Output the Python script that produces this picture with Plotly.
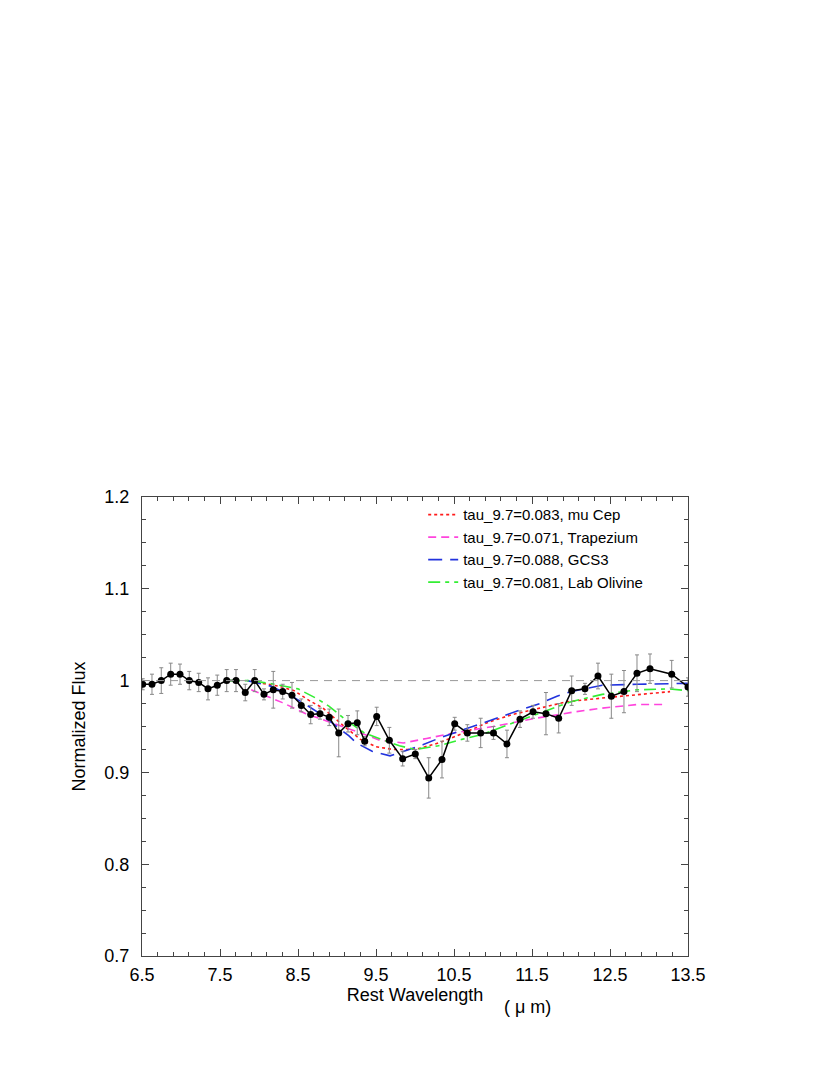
"""Silicate 9.7 um absorption fit — normalized flux vs rest wavelength."""

import plotly.graph_objects as go

# observed spectrum (rest wavelength in micron, normalized flux, 1-sigma error)
wave = [6.509, 6.628, 6.747, 6.868, 6.987, 7.106, 7.227, 7.346, 7.465, 7.586,
        7.705, 7.824, 7.945, 8.064, 8.183, 8.304, 8.423, 8.542, 8.663, 8.782,
        8.901, 9.022, 9.141, 9.260, 9.355, 9.509, 9.671, 9.842, 10.004, 10.176,
        10.346, 10.509, 10.671, 10.842, 11.006, 11.179, 11.346, 11.513, 11.679, 11.842,
        12.009, 12.179, 12.346, 12.517, 12.679, 12.846, 13.013, 13.291, 13.500]
flux = [0.996, 0.996, 1.000, 1.007, 1.007, 1.000, 0.998, 0.991, 0.995, 1.000,
        1.000, 0.987, 1.000, 0.985, 0.990, 0.988, 0.984, 0.973, 0.963, 0.964,
        0.960, 0.943, 0.953, 0.954, 0.934, 0.961, 0.935, 0.915, 0.920, 0.894,
        0.914, 0.953, 0.943, 0.943, 0.943, 0.931, 0.958, 0.966, 0.964, 0.959,
        0.989, 0.991, 1.005, 0.983, 0.988, 1.008, 1.013, 1.007, 0.993]
flux_err = [0.006, 0.011, 0.014, 0.012, 0.011, 0.010, 0.010, 0.012, 0.011, 0.012,
            0.012, 0.009, 0.012, 0.006, 0.020, 0.008, 0.014, 0.007, 0.010, 0.006,
            0.009, 0.026, 0.009, 0.013, 0.005, 0.010, 0.014, 0.008, 0.005, 0.022,
            0.020, 0.007, 0.009, 0.016, 0.007, 0.015, 0.009, 0.007, 0.023, 0.016,
            0.016, 0.006, 0.014, 0.024, 0.023, 0.020, 0.016, 0.015, 0.010]

# model absorption profiles
mucep_x = [7.90, 8.05, 8.25, 8.45, 8.65, 8.82, 9.08, 9.30, 9.50, 9.72, 9.90,
           10.05, 10.30, 10.60, 10.95, 11.25, 11.60, 11.95, 12.40, 12.85, 13.27]
mucep_y = [1.000, 0.997, 0.994, 0.989, 0.978, 0.970, 0.951, 0.936, 0.928, 0.925, 0.925,
           0.926, 0.932, 0.942, 0.955, 0.963, 0.970, 0.977, 0.981, 0.985, 0.988]

trap_x = [7.90, 8.05, 8.30, 8.60, 8.90, 9.05, 9.30, 9.55, 9.85, 10.15,
          10.50, 11.00, 11.30, 11.55, 11.85, 12.05, 12.40, 12.85, 13.20]
trap_y = [0.990, 0.985, 0.976, 0.964, 0.955, 0.951, 0.943, 0.935, 0.932, 0.937,
          0.943, 0.950, 0.955, 0.959, 0.963, 0.966, 0.970, 0.974, 0.974]

gcs3_x = [7.85, 8.15, 8.40, 8.60, 8.80, 9.00, 9.15, 9.25, 9.45, 9.68, 9.90, 10.10,
          10.30, 10.60, 10.85, 11.15, 11.35, 11.60, 11.82, 12.00, 12.40, 12.85, 13.30, 13.50]
gcs3_y = [1.000, 0.994, 0.984, 0.974, 0.963, 0.950, 0.940, 0.932, 0.923, 0.918, 0.924, 0.930,
          0.937, 0.946, 0.953, 0.962, 0.968, 0.975, 0.983, 0.988, 0.995, 0.996, 0.997, 0.997]

oliv_x = [7.60, 7.90, 8.20, 8.50, 8.75, 8.90, 9.10, 9.35, 9.60, 9.80, 10.00,
          10.30, 10.60, 10.85, 11.10, 11.35, 11.65, 12.00, 12.40, 12.85, 13.25, 13.50]
oliv_y = [1.000, 1.000, 0.996, 0.991, 0.980, 0.972, 0.958, 0.943, 0.935, 0.929, 0.925,
          0.929, 0.936, 0.941, 0.949, 0.957, 0.966, 0.977, 0.985, 0.990, 0.991, 0.989]

FONT = "Liberation Sans, Arial, sans-serif"
TITLE_FONT = {"family": FONT, "size": 18, "color": "black"}

fig = go.Figure()

fig.add_trace(go.Scatter(
    x=mucep_x, y=mucep_y, mode="lines", name="tau_9.7=0.083, mu Cep",
    line={"color": "#ff1a1a", "dash": "dot", "width": 1.6},
))
fig.add_trace(go.Scatter(
    x=trap_x, y=trap_y, mode="lines", name="tau_9.7=0.071, Trapezium",
    line={"color": "#ff44dd", "dash": "8px,5px", "width": 1.6},
))
fig.add_trace(go.Scatter(
    x=gcs3_x, y=gcs3_y, mode="lines", name="tau_9.7=0.088, GCS3",
    line={"color": "#2233dd", "dash": "14px,8px", "width": 1.6},
))
fig.add_trace(go.Scatter(
    x=oliv_x, y=oliv_y, mode="lines", name="tau_9.7=0.081, Lab Olivine",
    line={"color": "#33ee33", "dash": "12px,5px,4px,5px", "width": 1.6},
))

fig.add_trace(go.Scatter(
    x=wave, y=flux, mode="lines+markers", showlegend=False,
    line={"color": "black", "width": 1.5},
    marker={"color": "black", "size": 7},
    error_y={"type": "data", "array": flux_err, "color": "#888888",
             "thickness": 1, "width": 2},
))

# continuum level
fig.add_hline(y=1.0, line_dash="8px,6px", line_color="#999999", line_width=1)

# Why: the unit sits lower-right of the axis title in the original figure.
fig.add_annotation(
    text="( \u03bc m)", x=(527 - 142) / 546, y=-(1007 - 956) / 459,
    xref="paper", yref="paper", xanchor="center", yanchor="middle",
    showarrow=False, font=TITLE_FONT,
)

axis_common = dict(
    showline=True, mirror="ticks", linecolor="#444444", linewidth=1,
    ticks="inside", ticklen=7, tickcolor="#444444",
    showgrid=False, zeroline=False,
    tickfont={"family": FONT, "size": 18, "color": "black"},
)

fig.update_layout(
    width=830, height=1075,
    margin={"l": 134, "r": 150, "t": 489, "b": 127},
    paper_bgcolor="white", plot_bgcolor="white",
    font={"family": FONT, "color": "black"},
    xaxis={**axis_common, "range": [6.5, 13.5], "tick0": 6.5, "dtick": 1,
           "ticklabelstandoff": 2,
           "minor": {"dtick": 0.2, "tick0": 6.5, "ticks": "inside", "ticklen": 4,
                     "tickcolor": "#444444"},
           "title": {"text": "Rest Wavelength", "standoff": 4, "font": TITLE_FONT}},
    yaxis={**axis_common, "range": [0.7, 1.2], "dtick": 0.1, "tickformat": "~g",
           "ticklabelstandoff": 8,
           "minor": {"dtick": 0.025, "ticks": "inside", "ticklen": 4,
                     "tickcolor": "#444444"},
           "title": {"text": "Normalized Flux", "standoff": 14, "font": TITLE_FONT}},
    legend={"x": 0.515, "y": 0.997, "xanchor": "left", "yanchor": "top",
            "bgcolor": "rgba(0,0,0,0)", "borderwidth": 0,
            "font": {"family": FONT, "size": 15, "color": "black"},
            "tracegroupgap": 0, "itemwidth": 30},
)

fig.write_html("out.html")
